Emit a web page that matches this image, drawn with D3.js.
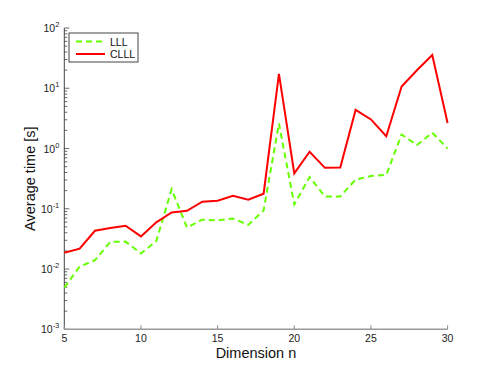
<!DOCTYPE html>
<html><head><meta charset="utf-8">
<script src="https://cdn.jsdelivr.net/npm/d3@7"></script>
<style>body{margin:0;background:#fff}svg{display:block;font-family:"Liberation Sans",Arial,sans-serif}</style>
</head><body><svg id="c" width="494" height="371"></svg>
<script>
const dims = [5,6,7,8,9,10,11,12,13,14,15,16,17,18,19,20,21,22,23,24,25,26,27,28,29,30];
const lll  = [0.0049,0.0110,0.0140,0.0282,0.0285,0.0181,0.0290,0.211,0.049,0.066,0.064,0.069,0.054,0.094,2.61,0.118,0.337,0.160,0.160,0.305,0.350,0.365,1.71,1.14,1.83,1.00];
const clll = [0.0186,0.0218,0.0432,0.0478,0.0522,0.0348,0.0595,0.0868,0.0925,0.131,0.136,0.164,0.141,0.178,17.3,0.388,0.885,0.478,0.486,4.37,3.04,1.60,10.7,19.9,35.7,2.65];
const xTicks = [5,10,15,20,25,30];
const yExps = [-3,-2,-1,0,1,2];
const seriesNames = ["LLL","CLLL"];

const L=64.3,R=447.6,T=28,B=329.3;
const svg=d3.select("#c");
const x=d3.scaleLinear().domain([5,30]).range([L,R]);
const y=d3.scaleLog().domain([1e-3,1e2]).range([B,T]);

// y axis ticks (log minor + major)
const yg=svg.append("g");
for(let e=-3;e<2;e++){
  for(let m=2;m<=9;m++){
    const v=m*Math.pow(10,e);
    yg.append("line").attr("x1",L).attr("x2",L+3).attr("y1",y(v)).attr("y2",y(v)).attr("stroke","#444").attr("stroke-width",0.8);
  }
}
yExps.forEach(e=>{
  const v=Math.pow(10,e);
  yg.append("line").attr("x1",L).attr("x2",L+5).attr("y1",y(v)).attr("y2",y(v)).attr("stroke","#444").attr("stroke-width",0.8);
  const t=yg.append("text").attr("x",L-5).attr("y",y(v)+4).attr("text-anchor","end").attr("font-size",10.5).attr("fill","#222");
  t.append("tspan").text("10");
  t.append("tspan").attr("dy",-5).attr("font-size",7.5).text(e);
});
yg.append("line").attr("x1",L).attr("x2",L).attr("y1",T).attr("y2",B).attr("stroke","#444").attr("stroke-width",1);

// x axis
const xg=svg.append("g");
xTicks.forEach(v=>{
  xg.append("line").attr("x1",x(v)).attr("x2",x(v)).attr("y1",B).attr("y2",B-4).attr("stroke","#888").attr("stroke-width",1);
  xg.append("text").attr("x",x(v)).attr("y",B+13).attr("text-anchor","middle").attr("font-size",10.5).attr("fill","#222").text(v);
});
xg.append("line").attr("x1",L).attr("x2",R).attr("y1",B).attr("y2",B).attr("stroke","#999").attr("stroke-width",1.5);

// labels
svg.append("text").attr("x",(L+R)/2).attr("y",358).attr("text-anchor","middle").attr("font-size",14.5).attr("fill","#111").text("Dimension n");
svg.append("text").attr("transform","translate(35,"+((T+B)/2)+") rotate(-90)").attr("text-anchor","middle").attr("font-size",14.5).attr("fill","#111").text("Average time [s]");

// lines
const line=d3.line().x((d,i)=>x(dims[i])).y(d=>y(d));
svg.append("path").datum(lll).attr("d",line).attr("fill","none").attr("stroke","#66ff00").attr("stroke-width",2).attr("stroke-dasharray","6,4");
svg.append("path").datum(clll).attr("d",line).attr("fill","none").attr("stroke","#ff0000").attr("stroke-width",2);

// legend
const lg=svg.append("g");
lg.append("rect").attr("x",69).attr("y",33).attr("width",69).attr("height",29).attr("fill","#fff").attr("stroke","#444").attr("stroke-width",1);
const styles=[{c:"#66ff00",d:"6,4"},{c:"#ff0000",d:null}];
seriesNames.forEach((n,i)=>{
  const yy=41.5+i*12.5;
  const l=lg.append("line").attr("x1",76).attr("x2",105).attr("y1",yy).attr("y2",yy).attr("stroke",styles[i].c).attr("stroke-width",2);
  if(styles[i].d) l.attr("stroke-dasharray",styles[i].d);
  lg.append("text").attr("x",110).attr("y",yy+4).attr("font-size",10.5).attr("fill","#111").text(n);
});
</script></body></html>
